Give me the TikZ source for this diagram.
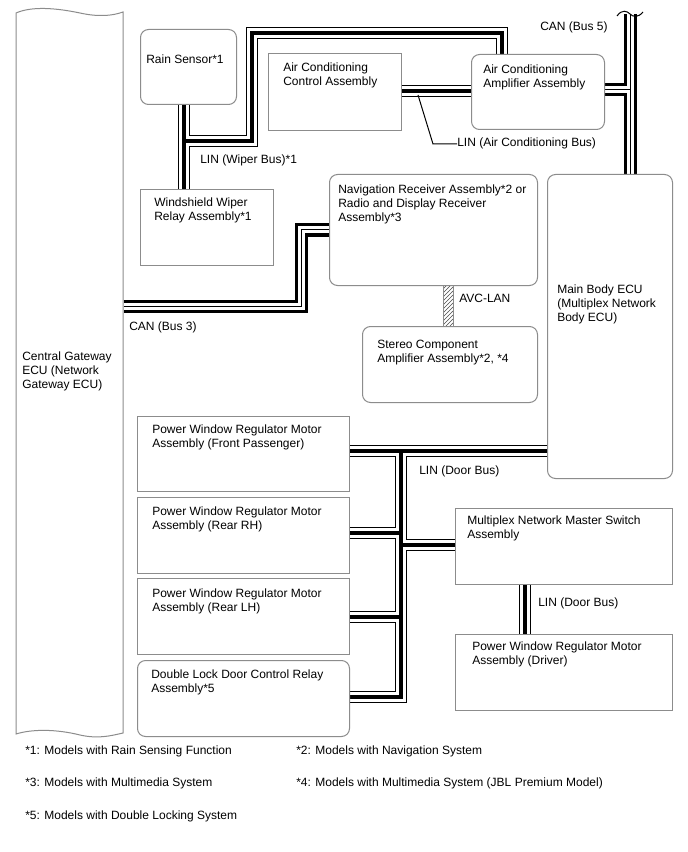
\documentclass[tikz,border=0pt]{standalone}
\usepackage{fontspec}
\setmainfont{Liberation Sans}
\usetikzlibrary{patterns}
\pgfdeclarelayer{bg}
\pgfsetlayers{bg,main}
\definecolor{boxgray}{RGB}{140,140,140}
\tikzset{
  box/.style={draw=boxgray, line width=0.75pt, fill=white, rectangle, inner sep=0pt, anchor=north west},
  rbox/.style={box, rounded corners=6pt},
  txt/.style={inner sep=0pt, anchor=north west, align=left, font=\fontsize{9}{10.5}\selectfont},
  leader/.style={draw=black, line width=0.75pt},
}
\newcommand\bx[6]{\node[#2, minimum width={(#5-#3)*0.75pt}, minimum height={(#6-#4)*0.75pt}] (#1) at (#3,#4) {};}
\newcommand\linbus[1]{%
  \draw[black, line width=9pt, line join=miter] #1;
  \draw[white, line width=7.5pt, line join=miter] #1;
  \draw[black, line width=3pt, line join=miter] #1;}
\newcommand\canbus[1]{%
  \draw[black, line width=9.75pt, line join=miter] #1;
  \draw[white, line width=5.25pt, line join=miter] #1;
  \draw[black, line width=0.75pt, line join=miter] #1;}
\begin{document}
\begin{tikzpicture}[x=0.75pt, y=-0.75pt]
% gateway
\node[inner sep=0pt, minimum width={107*0.75pt}, minimum height={721*0.75pt}, anchor=north west] (gw) at (16,13) {};
\draw[boxgray, line width=0.75pt, fill=white]
  (16,13) .. controls (32,6) and (56,8) .. (80,13) .. controls (98,17) and (112,16) .. (123,12)
  -- (123,733) .. controls (110,736) and (98,739) .. (80,735) .. controls (56,729) and (32,729) .. (16,734) -- cycle;
\node[txt] (gwT) at (22,352) {Central Gateway\\ECU (Network\\Gateway ECU)};

% boxes
\bx{rain}{rbox}{140}{29}{236}{104}
\node[txt] (rainT) at (146,55) {Rain Sensor*1};
\bx{acc}{box}{268}{53}{401}{130}
\node[txt] (accT) at (283,63) {Air Conditioning\\Control Assembly};
\bx{aca}{rbox}{471}{54}{604}{129}
\node[txt] (acaT) at (483,65) {Air Conditioning\\Amplifier Assembly};
\bx{wip}{box}{140}{189}{273}{265}
\node[txt] (wipT) at (154,198) {Windshield Wiper\\Relay Assembly*1};
\bx{nav}{rbox}{329}{174}{537}{285}
\node[txt] (navT) at (338,185) {Navigation Receiver Assembly*2 or\\Radio and Display Receiver\\Assembly*3};
\bx{ste}{rbox}{362}{326}{537}{402}
\node[txt] (steT) at (377,340) {Stereo Component\\Amplifier Assembly*2, *4};
\bx{mb}{rbox}{547}{174}{672}{478}
\node[txt] (mbT) at (557,285) {Main Body ECU\\(Multiplex Network\\Body ECU)};
\bx{fp}{box}{137}{416}{349}{491}
\node[txt] (fpT) at (152,425) {Power Window Regulator Motor\\Assembly (Front Passenger)};
\bx{rr}{box}{137}{497}{349}{573}
\node[txt] (rrT) at (152,507) {Power Window Regulator Motor\\Assembly (Rear RH)};
\bx{rl}{box}{137}{578}{349}{654}
\node[txt] (rlT) at (152,589) {Power Window Regulator Motor\\Assembly (Rear LH)};
\bx{dl}{rbox}{137}{660}{349}{736}
\node[txt] (dlT) at (151,670) {Double Lock Door Control Relay\\Assembly*5};
\bx{ms}{box}{455}{508}{672}{584}
\node[txt] (msT) at (467,516) {Multiplex Network Master Switch\\Assembly};
\bx{drv}{box}{455}{634}{672}{710}
\node[txt] (drvT) at (472,642) {Power Window Regulator Motor\\Assembly (Driver)};

% AVC-LAN
\node[draw=boxgray, line width=0.75pt, pattern=north east lines, pattern color=black!70, inner sep=0pt,
  minimum width={10*0.75pt}, minimum height={41*0.75pt}, anchor=north west] (avc) at (443,285) {};

% coordinates
\coordinate (jw) at (184,141);
\coordinate (w1) at (252,141);
\coordinate (w2) at (252,33);
\coordinate (w3) at (502,33);
\coordinate (ac) at (0,91);
\coordinate (c5top) at (630,14);
\coordinate (c5j) at (630,90);
\coordinate (c3a) at (301,306);
\coordinate (c3b) at (301,230);
\coordinate (d1) at (401,451);
\coordinate (d2) at (401,533);
\coordinate (d3) at (401,545);
\coordinate (d4) at (401,617);
\coordinate (d5) at (401,697);
\coordinate (dv) at (525,0);
\coordinate (lp) at (418,95);
\coordinate (lk) at (433,144);

\begin{pgfonlayer}{bg}
\path[use as bounding box, fill=white] (0,0) rectangle (688,852);
\linbus{(rain.south -| jw) -- (wip.north -| jw) (jw) -- (w1) -- (w2) -- (w3) -- (aca.north -| w3)}
\linbus{(acc.east |- ac) -- (aca.west |- ac)}
\canbus{(c5top) -- (mb.north -| c5top) (aca.east |- c5j) -- (c5j)}
\canbus{(gw.east |- c3a) -- (c3a) -- (c3b) -- (nav.west |- c3b)}
\linbus{(fp.east |- d1) -- (mb.west |- d1) (d1) -- (d5) -- (dl.east |- d5) (rr.east |- d2) -- (d2) (d3) -- (ms.west |- d3) (rl.east |- d4) -- (d4) (ms.south -| dv) -- (drv.north -| dv)}
\end{pgfonlayer}

% cut mark on CAN (Bus 5)
\draw[line width=0.75pt] (617,16) .. controls (622,9) and (627,11) .. (630,14) .. controls (633,17) and (638,18) .. (643,12);

% labels
\node[txt] (c5l) at (540,22) {CAN (Bus 5)};
\node[txt] (acl) at (457,138) {LIN (Air Conditioning Bus)};
\draw[leader] (lp) -- (lk) -- (acl.west);
\node[txt] (wl) at (200,155) {LIN (Wiper Bus)*1};
\node[txt] (c3l) at (129,322) {CAN (Bus 3)};
\node[txt] (avl) at (459,294) {AVC-LAN};
\node[txt] (dbl1) at (419,466) {LIN (Door Bus)};
\node[txt] (dbl2) at (538,598) {LIN (Door Bus)};

% footnotes
\node[txt] (f1) at (25,746) {*1: Models with Rain Sensing Function};
\node[txt] (f2) at (296,746) {*2: Models with Navigation System};
\node[txt] (f3) at (25,778) {*3: Models with Multimedia System};
\node[txt] (f4) at (296,778) {*4: Models with Multimedia System (JBL Premium Model)};
\node[txt] (f5) at (25,811) {*5: Models with Double Locking System};
\end{tikzpicture}
\end{document}
